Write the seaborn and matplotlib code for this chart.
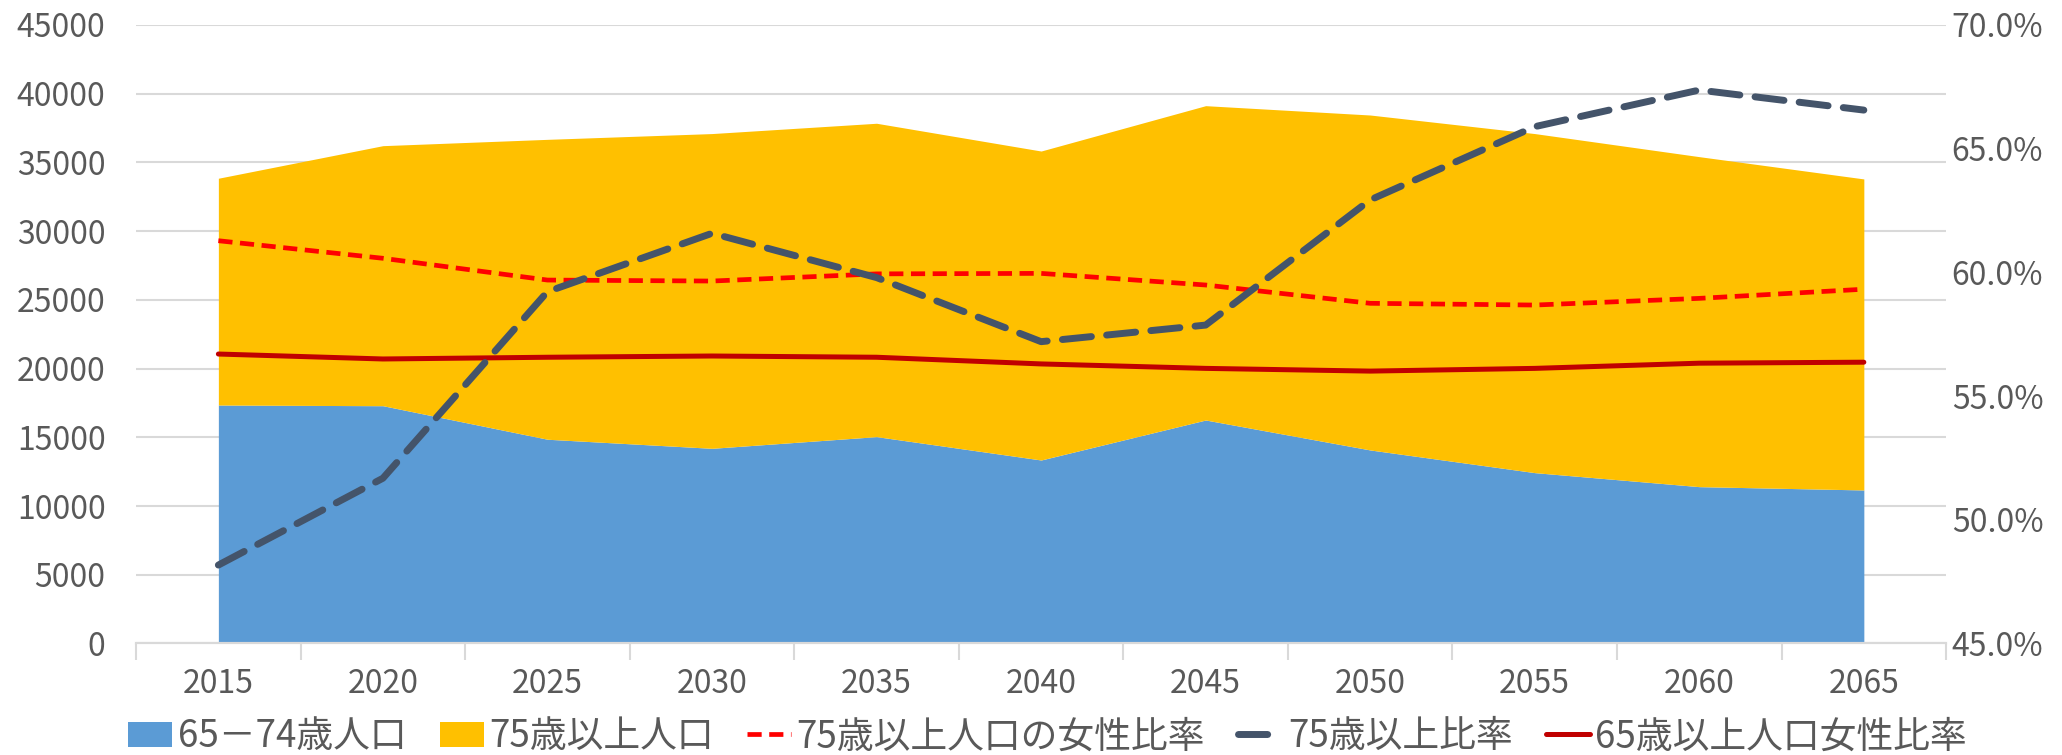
import numpy as np
import pandas as pd
import matplotlib
matplotlib.use("Agg")
import matplotlib.pyplot as plt
import seaborn as sns
from matplotlib.ticker import FuncFormatter, MultipleLocator, FixedLocator
from matplotlib.patches import Patch
from matplotlib.lines import Line2D

# ---- data ----
years = ["2015", "2020", "2025", "2030", "2035", "2040", "2045", "2050", "2055", "2060", "2065"]
pop_65_74 = [17350, 17300, 14860, 14200, 15050, 13350, 16260, 14080, 12430, 11410, 11170]
pop_total_65plus = [33850, 36220, 36680, 37100, 37850, 35830, 39130, 38450, 37100, 35420, 33800]
pop_75plus = [t - a for t, a in zip(pop_total_65plus, pop_65_74)]
female_ratio_75plus = [61.28, 60.57, 59.69, 59.65, 59.94, 59.96, 59.49, 58.75, 58.68, 58.95, 59.32]
ratio_75plus = [48.17, 51.68, 59.22, 61.58, 59.79, 57.20, 57.87, 62.93, 65.89, 67.37, 66.56]
female_ratio_65plus = [56.70, 56.50, 56.57, 56.62, 56.57, 56.30, 56.12, 56.01, 56.12, 56.33, 56.37]

labels = ["65－74歳人口", "75歳以上人口", "75歳以上人口の女性比率", "75歳以上比率", "65歳以上人口女性比率"]

sns.set_theme(style="white")
plt.rcParams['font.family'] = ['Noto Sans CJK JP', 'DejaVu Sans']

c_blue = "#5B9BD5"
c_yellow = "#FFC000"
c_red = "#FF0000"
c_dark = "#44546A"
c_darkred = "#C00000"
c_grid = "#D9D9D9"
c_text = "#595959"
fs = 23
fs_leg = 26.5

df = pd.DataFrame({
    "year": years,
    "x": np.arange(len(years)),
    "a": pop_65_74,
    "b": pop_75plus,
    "r1": female_ratio_75plus,
    "r2": ratio_75plus,
    "r3": female_ratio_65plus,
})

fig = plt.figure(figsize=(20.62, 7.55), dpi=100)
ax = fig.add_axes([0.066, 0.1477, 0.8778, 0.8192])
ax2 = ax.twinx()

# stacked areas
ax.fill_between(df["x"], 0, df["a"], color=c_blue, lw=0, zorder=2)
ax.fill_between(df["x"], df["a"], df["a"] + df["b"], color=c_yellow, lw=0, zorder=2)

ax.set_xlim(-0.5, len(years) - 0.5)
ax.set_ylim(0, 45000)
ax.yaxis.set_major_locator(MultipleLocator(5000))
ax.grid(axis="y", color=c_grid, lw=1.5, zorder=0)
ax.set_axisbelow(True)

# lines on secondary axis
sns.lineplot(data=df, x="x", y="r1", ax=ax2, color=c_red, lw=3.4,
             legend=False, zorder=4)
ax2.lines[-1].set_dashes([3.0, 1.6])
sns.lineplot(data=df, x="x", y="r2", ax=ax2, color=c_dark, lw=5.0,
             legend=False, zorder=5)
ax2.lines[-1].set_dashes([4.2, 2.2])
ax2.lines[-1].set_dash_capstyle("round")
sns.lineplot(data=df, x="x", y="r3", ax=ax2, color=c_darkred, lw=3.6,
             legend=False, zorder=4)

ax2.set_ylim(45, 70)
ax2.yaxis.set_major_locator(MultipleLocator(5))
ax2.yaxis.set_major_formatter(FuncFormatter(lambda v, p: f"{v:.1f}%"))
ax2.set_xlim(-0.5, len(years) - 0.5)

for a in (ax, ax2):
    a.set_xlabel("")
    a.set_ylabel("")
    for s in a.spines.values():
        s.set_visible(False)
    a.spines["bottom"].set_visible(True)
    a.spines["bottom"].set_color(c_grid)
    a.spines["bottom"].set_linewidth(1.5)
ax2.grid(False)

ax.set_xticks(df["x"])
ax.set_xticklabels(years)
ax.xaxis.set_minor_locator(FixedLocator(np.arange(-0.5, len(years), 1.0)))
ax.tick_params(axis="x", which="major", length=0, pad=18, labelsize=fs, labelcolor=c_text)
ax.tick_params(axis="x", which="minor", length=12, width=1.5, color=c_grid, bottom=True)
ax.tick_params(axis="y", length=0, pad=22, labelsize=fs, labelcolor=c_text)
ax2.tick_params(axis="y", length=0, pad=4, labelsize=fs, labelcolor=c_text)
ax2.tick_params(axis="x", length=0, labelbottom=False)

handles = [
    Patch(facecolor=c_blue, edgecolor="none"),
    Patch(facecolor=c_yellow, edgecolor="none"),
    Line2D([], [], color=c_red, lw=3.4, dashes=[3.0, 1.6]),
    Line2D([], [], color=c_dark, lw=5.0, dashes=[4.2, 2.2], dash_capstyle="round"),
    Line2D([], [], color=c_darkred, lw=3.6),
]
leg = fig.legend(handles, labels, loc="center", bbox_to_anchor=(0.508, 0.024), ncol=5,
                 frameon=False, fontsize=fs_leg, handlelength=1.2, handletextpad=0.15,
                 columnspacing=0.9, labelcolor=c_text)

fig.savefig("out.png", dpi=100)
